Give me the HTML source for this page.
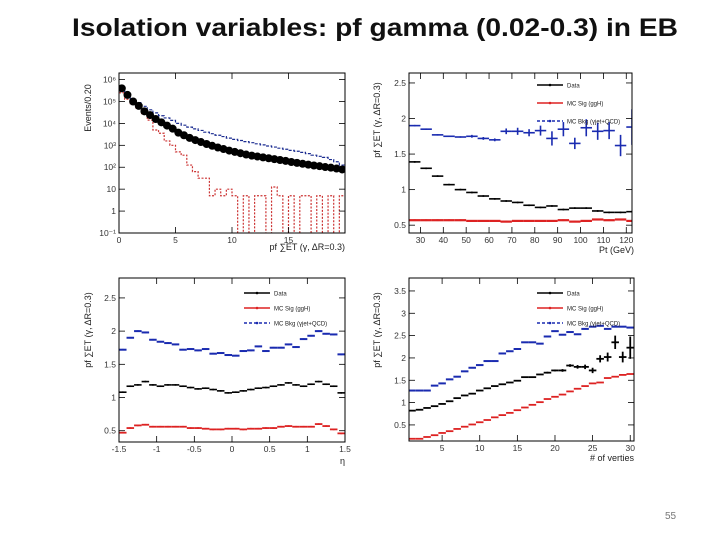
<!DOCTYPE html>
<html><head><meta charset="utf-8"><style>
html,body{margin:0;padding:0;background:#fff;width:720px;height:540px;overflow:hidden}
svg{display:block;font-family:"Liberation Sans",sans-serif}
</style></head><body>
<svg id="s" width="720" height="540" viewBox="0 0 720 540">
<text x="72" y="36" font-size="25" font-weight="bold" textLength="606" lengthAdjust="spacingAndGlyphs" fill="#111">Isolation variables:  pf gamma (0.02-0.3) in EB</text>
<text x="665" y="519" font-size="10" fill="#777">55</text>
</svg>
<script>
// ---- Panel 1: pf sum ET distribution (log10 of events), bins of 0.5 from 0 to 20
const p1Data=[5.6,5.3,5.0,4.8,4.55,4.38,4.2,4.05,3.9,3.76,3.58,3.46,3.34,3.24,3.15,3.06,2.98,2.9,2.83,2.76,2.7,2.64,2.58,2.53,2.49,2.45,2.41,2.37,2.33,2.29,2.24,2.2,2.16,2.12,2.08,2.05,2.01,1.98,1.94,1.9];
const p1Bkg=[5.5,5.3,5.1,4.95,4.78,4.62,4.48,4.35,4.25,4.14,4.0,3.92,3.83,3.75,3.68,3.6,3.53,3.46,3.4,3.33,3.27,3.22,3.17,3.12,3.07,3.02,2.97,2.92,2.87,2.82,2.77,2.73,2.68,2.62,2.55,2.5,2.45,2.35,2.25,2.1];
const p1Sig=[5.4,5.1,4.9,4.7,4.45,4.15,3.7,3.55,3.2,3.0,2.7,2.55,2.1,1.8,1.5,1.5,0.7,1.0,0.7,1.0,0.7,-2,0.7,-2,0.7,0.7,-2,1.1,0.7,-2,0.7,-2,0.7,0.7,-2,0.7,-2,0.7,-2,0.7];
const p1YTicks=["10\u207B\u00B9","1","10","10\u00B2","10\u00B3","10\u2074","10\u2075","10\u2076"];
const p1XTicks=[0,5,10,15];
// ---- Panel 2: vs Pt, bins of 5 GeV from 25
const p2Data=[1.39,1.3,1.19,1.07,1.0,0.96,0.91,0.87,0.84,0.82,0.78,0.75,0.77,0.72,0.74,0.74,0.7,0.68,0.68,0.69];
const p2Sig=[0.57,0.57,0.57,0.57,0.57,0.56,0.56,0.56,0.55,0.56,0.56,0.56,0.56,0.57,0.55,0.56,0.58,0.57,0.58,0.56];
const p2Bkg=[1.9,1.85,1.77,1.75,1.74,1.75,1.72,1.7,1.82,1.82,1.8,1.83,1.72,1.85,1.65,1.87,1.82,1.83,1.62,1.88];
const p2BkgErr=[0.01,0.01,0.01,0.01,0.01,0.02,0.02,0.02,0.04,0.05,0.05,0.07,0.1,0.1,0.08,0.12,0.12,0.12,0.15,0.25];
const p2XTicks=[30,40,50,60,70,80,90,100,110,120];
const p2YTicks=[0.5,1,1.5,2,2.5];
// ---- Panel 3: vs eta, 30 bins from -1.5 to 1.5
const p3Bkg=[1.72,1.9,2.0,1.98,1.87,1.84,1.82,1.8,1.72,1.73,1.71,1.73,1.66,1.67,1.64,1.63,1.7,1.71,1.77,1.7,1.75,1.75,1.8,1.76,1.88,1.93,2.0,1.96,1.95,1.65];
const p3Data=[1.08,1.17,1.19,1.24,1.19,1.17,1.19,1.19,1.17,1.15,1.13,1.14,1.12,1.1,1.07,1.08,1.1,1.12,1.14,1.15,1.17,1.19,1.22,1.19,1.17,1.2,1.24,1.2,1.17,1.07];
const p3Sig=[0.47,0.54,0.58,0.59,0.56,0.56,0.56,0.56,0.56,0.54,0.54,0.53,0.52,0.52,0.53,0.53,0.52,0.53,0.53,0.54,0.54,0.56,0.57,0.56,0.56,0.56,0.6,0.57,0.52,0.46];
const p3XTicks=[-1.5,-1,-0.5,0,0.5,1,1.5];
const p3YTicks=[0.5,1,1.5,2,2.5];
// ---- Panel 4: vs number of vertices 1..30
const p4Data=[0.82,0.84,0.88,0.92,0.97,1.03,1.1,1.16,1.2,1.27,1.32,1.37,1.41,1.45,1.49,1.57,1.57,1.63,1.67,1.72,1.72,1.83,1.8,1.8,1.72,1.98,2.02,2.35,2.02,2.23];
const p4DataErr=[0.01,0.01,0.01,0.01,0.01,0.01,0.01,0.01,0.01,0.01,0.01,0.01,0.01,0.01,0.01,0.01,0.01,0.01,0.02,0.02,0.03,0.03,0.04,0.05,0.06,0.08,0.1,0.15,0.12,0.25];
const p4Bkg=[1.27,1.27,1.27,1.38,1.43,1.52,1.58,1.7,1.78,1.84,1.93,1.93,2.1,2.15,2.2,2.35,2.35,2.32,2.48,2.6,2.52,2.58,2.53,2.65,2.7,2.72,2.65,2.7,2.7,2.68];
const p4Sig=[0.19,0.19,0.23,0.27,0.32,0.36,0.41,0.46,0.51,0.56,0.61,0.67,0.72,0.77,0.83,0.89,0.95,1.01,1.08,1.13,1.18,1.25,1.31,1.37,1.43,1.45,1.55,1.58,1.62,1.64];
const p4XTicks=[5,10,15,20,25,30];
const p4YTicks=[0.5,1,1.5,2,2.5,3,3.5];

const NS="http://www.w3.org/2000/svg";
const svg=document.getElementById('s');
function mk(tag,attrs,parent){const e=document.createElementNS(NS,tag);for(const k in attrs)e.setAttribute(k,attrs[k]);(parent||svg).appendChild(e);return e;}
function scale(d0,d1,r0,r1){return v=>r0+(v-d0)/(d1-d0)*(r1-r0);}
function clipped(g,id,L,T,R,B){const c=mk('clipPath',{id:id},g);mk('rect',{x:L,y:T,width:R-L,height:B-T},c);return mk('g',{'clip-path':'url(#'+id+')'},g);}

function frame(g,L,T,R,B){
  const f=mk('rect',{x:L,y:T,width:R-L,height:B-T,fill:'none',stroke:'#000','stroke-width':1},g);
  
  
}
function xticks(g,ticks,labels,sx,B,T){
  ticks.forEach((t,i)=>{
    const x=sx(t);
    mk('line',{x1:x,x2:x,y1:B,y2:B-6,stroke:'#000','stroke-width':0.8},g);
    mk('line',{x1:x,x2:x,y1:T,y2:T+6,stroke:'#000','stroke-width':0.8},g);
    const tx=mk('text',{x:x,y:B+10,'font-size':8.5,'text-anchor':'middle',fill:'#333'},g);
    tx.textContent=labels[i];
    
    
  });
}
function yticks(g,ticks,labels,sy,L,R){
  ticks.forEach((t,i)=>{
    const y=sy(t);
    mk('line',{x1:L,x2:L+6,y1:y,y2:y,stroke:'#000','stroke-width':0.8},g);
    mk('line',{x1:R,x2:R-6,y1:y,y2:y,stroke:'#000','stroke-width':0.8},g);
    const tx=mk('text',{x:L-3,y:y+3,'font-size':8.5,'text-anchor':'end',fill:'#333'},g);
    tx.textContent=labels[i];
    
    
  });
}
function ylabel(g,x,yc,txt,name){
  const t=mk('text',{x:x,y:yc,'font-size':9,'text-anchor':'middle',fill:'#222',transform:`rotate(-90 ${x} ${yc})`},g);
  t.textContent=txt;
  
  
}
function xlabel(g,x,y,txt,name){
  const t=mk('text',{x:x,y:y,'font-size':9,'text-anchor':'end',fill:'#222'},g);
  t.textContent=txt;
  
  
}
function profile(g,vals,errs,x0,w,sx,sy,color,sw,name){
  vals.forEach((v,i)=>{
    const xa=sx(x0+i*w), xb=sx(x0+(i+1)*w), y=sy(v);
    const m=mk('line',{x1:xa,x2:xb,y1:y,y2:y,stroke:color,'stroke-width':sw},g);
    
    
    const e=errs?errs[i]:0.012;
    mk('line',{x1:(xa+xb)/2,x2:(xa+xb)/2,y1:sy(v-e),y2:sy(v+e),stroke:color,'stroke-width':sw},g);
  });
}
function legend(g,x,y,dy,items){
  items.forEach((it,i)=>{
    const yy=y+i*dy;
    mk('line',{x1:x,x2:x+26,y1:yy,y2:yy,stroke:it[1],'stroke-width':1.6,'stroke-dasharray':it[2]||'none'},g);
    mk('circle',{cx:x+13,cy:yy,r:1.3,fill:it[1]},g);
    const t=mk('text',{x:x+30,y:yy+2.5,'font-size':6,fill:'#222'},g);
    t.textContent=it[0];
    
    
  });
}
const legItems=[["Data","#000"],["MC Sig (ggH)","#d22"],["MC Bkg (γjet+QCD)","#1a2bb0","3,2"]];

// ===== Panel 1
(function(){
  const g=mk('g',{});
  const L=119,R=345,T=73,B=233;
  const sx=scale(0,20,L,R), sy=scale(-1,6.3,B,T);
  const gc=clipped(g,'c1',L,T,R,B);
  function steps(vals,color,dash,name){
    let d='';
    vals.forEach((v,i)=>{const y=sy(v);d+=(i?'L':'M')+sx(i*0.5)+' '+y+'L'+sx((i+1)*0.5)+' '+y;});
    const p=mk('path',{d:d,fill:'none',stroke:color,'stroke-width':1.2,'stroke-dasharray':dash},gc);
    
  }
  steps(p1Sig,'#c33','2,1.5','signal-histogram');
  steps(p1Bkg,'#1a2b90','3,1.5','background-histogram');
  p1Data.forEach((v,i)=>{
    const c=mk('circle',{cx:sx(i*0.5+0.25),cy:sy(v),r:4,fill:'#000'},gc);
    
  });
  frame(g,L,T,R,B);
  xticks(g,p1XTicks,p1XTicks.map(String),sx,B,T);
  yticks(g,[-1,0,1,2,3,4,5,6],p1YTicks,sy,L,R);
  ylabel(g,91,108,'Events/0.20','y-axis-title');
  xlabel(g,345,250,'pf ∑ET (γ, ΔR=0.3)','x-axis-title');
})();

// ===== Panel 2
(function(){
  const g=mk('g',{});
  const L=409,R=632,T=73,B=233;
  const sx=scale(25,122.5,L,R), sy=scale(0.39,2.64,B,T);
  const gc=clipped(g,'c2',L,T,R,B);
  profile(gc,p2Sig,null,25,5,sx,sy,'#d22',2.2,'signal-point');
  profile(gc,p2Data,null,25,5,sx,sy,'#000',1.6,'data-point');
  profile(gc,p2Bkg,p2BkgErr,25,5,sx,sy,'#1a2bb0',1.6,'background-point');
  frame(g,L,T,R,B);
  xticks(g,p2XTicks,p2XTicks.map(String),sx,B,T);
  yticks(g,p2YTicks,p2YTicks.map(String),sy,L,R);
  legend(g,537,85,18,legItems);
  ylabel(g,380,120,'pf ∑ET (γ, ΔR=0.3)','y-axis-title');
  xlabel(g,634,253,'Pt (GeV)','x-axis-title');
})();

// ===== Panel 3
(function(){
  const g=mk('g',{});
  const L=119,R=345,T=278,B=442;
  const sx=scale(-1.5,1.5,L,R), sy=scale(0.33,2.8,B,T);
  const gc=clipped(g,'c3',L,T,R,B);
  profile(gc,p3Bkg,null,-1.5,0.1,sx,sy,'#1a2bb0',2,'background-point');
  profile(gc,p3Data,null,-1.5,0.1,sx,sy,'#000',1.6,'data-point');
  profile(gc,p3Sig,null,-1.5,0.1,sx,sy,'#d22',1.8,'signal-point');
  frame(g,L,T,R,B);
  xticks(g,p3XTicks,p3XTicks.map(String),sx,B,T);
  yticks(g,p3YTicks,p3YTicks.map(String),sy,L,R);
  legend(g,244,293,15,legItems);
  ylabel(g,91,330,'pf ∑ET (γ, ΔR=0.3)','y-axis-title');
  xlabel(g,345,464,'η','x-axis-title');
})();

// ===== Panel 4
(function(){
  const g=mk('g',{});
  const L=409,R=634,T=278,B=441;
  const sx=scale(0.6,30.5,L,R), sy=scale(0.14,3.79,B,T);
  const gc=clipped(g,'c4',L,T,R,B);
  profile(gc,p4Sig,null,0.5,1,sx,sy,'#d22',1.8,'signal-point');
  profile(gc,p4Data,p4DataErr,0.5,1,sx,sy,'#000',1.8,'data-point');
  profile(gc,p4Bkg,null,0.5,1,sx,sy,'#1a2bb0',2,'background-point');
  frame(g,L,T,R,B);
  xticks(g,p4XTicks,p4XTicks.map(String),sx,B,T);
  yticks(g,p4YTicks,p4YTicks.map(String),sy,L,R);
  legend(g,537,293,15,legItems);
  ylabel(g,380,330,'pf ∑ET (γ, ΔR=0.3)','y-axis-title');
  xlabel(g,634,461,'# of verties','x-axis-title');
})();
</script>
</body></html>
